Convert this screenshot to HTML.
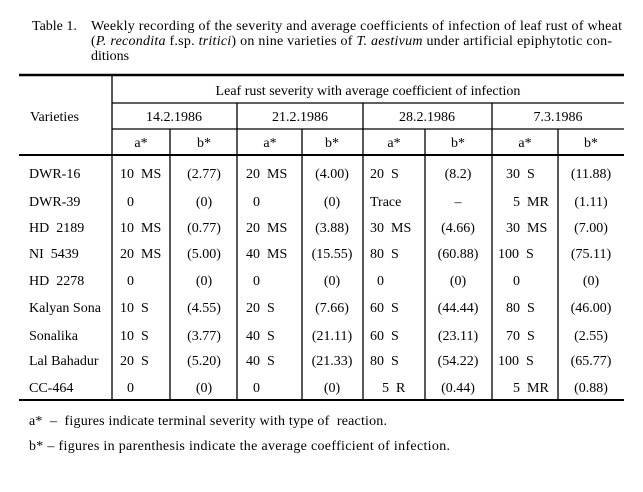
<!DOCTYPE html>
<html><head><meta charset="utf-8"><style>
html,body{margin:0;padding:0;background:#fff;}
svg{display:block;}
text{font-family:"Liberation Serif",serif;font-size:14px;fill:#000;white-space:pre;}
</style></head><body>
<svg width="643" height="492" viewBox="0 0 643 492" xmlns="http://www.w3.org/2000/svg">
<text x="32" y="30">Table 1.</text>
<text x="91" y="30" textLength="531" lengthAdjust="spacing">Weekly recording of the severity and average coefficients of infection of leaf rust of wheat</text>
<text x="91" y="45" textLength="521" lengthAdjust="spacing">(<tspan font-style="italic">P. recondita</tspan> f.sp. <tspan font-style="italic">tritici</tspan>) on nine varieties of <tspan font-style="italic">T. aestivum</tspan> under artificial epiphytotic con-</text>
<text x="91" y="60">ditions</text>

<g stroke="#000" fill="none">
<line x1="19" y1="75" x2="624" y2="75" stroke-width="2.5"/>
<line x1="112" y1="103" x2="624" y2="103" stroke-width="1.2"/>
<line x1="112" y1="129" x2="624" y2="129" stroke-width="1.2"/>
<line x1="19" y1="155" x2="624" y2="155" stroke-width="2"/>
<line x1="19" y1="400" x2="624" y2="400" stroke-width="2"/>
<line x1="112" y1="75" x2="112" y2="400" stroke-width="1.3"/>
<line x1="237" y1="103" x2="237" y2="400" stroke-width="1.3"/>
<line x1="363" y1="103" x2="363" y2="400" stroke-width="1.3"/>
<line x1="492" y1="103" x2="492" y2="400" stroke-width="1.3"/>
<line x1="170" y1="129" x2="170" y2="400" stroke-width="1.3"/>
<line x1="302" y1="129" x2="302" y2="400" stroke-width="1.3"/>
<line x1="425" y1="129" x2="425" y2="400" stroke-width="1.3"/>
<line x1="558" y1="129" x2="558" y2="400" stroke-width="1.3"/>
</g>

<g text-anchor="middle">
<text x="368" y="95">Leaf rust severity with average coefficient of infection</text>
<text x="174" y="121">14.2.1986</text>
<text x="300" y="121">21.2.1986</text>
<text x="427" y="121">28.2.1986</text>
<text x="558" y="121">7.3.1986</text>
<text x="141" y="147">a*</text><text x="204" y="147">b*</text>
<text x="270" y="147">a*</text><text x="332" y="147">b*</text>
<text x="394" y="147">a*</text><text x="458" y="147">b*</text>
<text x="525" y="147">a*</text><text x="591" y="147">b*</text>
</g>
<text x="30" y="121">Varieties</text>

<g>
<text x="29" y="178">DWR-16</text>
<text x="29" y="206">DWR-39</text>
<text x="29" y="232">HD  2189</text>
<text x="29" y="258">NI  5439</text>
<text x="29" y="285">HD  2278</text>
<text x="29" y="312">Kalyan Sona</text>
<text x="29" y="340">Sonalika</text>
<text x="29" y="365">Lal Bahadur</text>
<text x="29" y="392">CC-464</text>
</g>

<g>
<text x="120" y="178">10  MS</text><text x="127" y="206">0</text><text x="120" y="232">10  MS</text><text x="120" y="258">20  MS</text><text x="127" y="285">0</text><text x="120" y="312">10  S</text><text x="120" y="340">10  S</text><text x="120" y="365">20  S</text><text x="127" y="392">0</text>
<text x="246" y="178">20  MS</text><text x="253" y="206">0</text><text x="246" y="232">20  MS</text><text x="246" y="258">40  MS</text><text x="253" y="285">0</text><text x="246" y="312">20  S</text><text x="246" y="340">40  S</text><text x="246" y="365">40  S</text><text x="253" y="392">0</text>
<text x="370" y="178">20  S</text><text x="370" y="206">Trace</text><text x="370" y="232">30  MS</text><text x="370" y="258">80  S</text><text x="377" y="285">0</text><text x="370" y="312">60  S</text><text x="370" y="340">60  S</text><text x="370" y="365">80  S</text><text x="382" y="392">5  R</text>
<text x="506" y="178">30  S</text><text x="513" y="206">5  MR</text><text x="506" y="232">30  MS</text><text x="498" y="258">100  S</text><text x="513" y="285">0</text><text x="506" y="312">80  S</text><text x="506" y="340">70  S</text><text x="498" y="365">100  S</text><text x="513" y="392">5  MR</text>
</g>

<g text-anchor="middle">
<text x="204" y="178">(2.77)</text><text x="204" y="206">(0)</text><text x="204" y="232">(0.77)</text><text x="204" y="258">(5.00)</text><text x="204" y="285">(0)</text><text x="204" y="312">(4.55)</text><text x="204" y="340">(3.77)</text><text x="204" y="365">(5.20)</text><text x="204" y="392">(0)</text>
<text x="332" y="178">(4.00)</text><text x="332" y="206">(0)</text><text x="332" y="232">(3.88)</text><text x="332" y="258">(15.55)</text><text x="332" y="285">(0)</text><text x="332" y="312">(7.66)</text><text x="332" y="340">(21.11)</text><text x="332" y="365">(21.33)</text><text x="332" y="392">(0)</text>
<text x="458" y="178">(8.2)</text><text x="458" y="206">–</text><text x="458" y="232">(4.66)</text><text x="458" y="258">(60.88)</text><text x="458" y="285">(0)</text><text x="458" y="312">(44.44)</text><text x="458" y="340">(23.11)</text><text x="458" y="365">(54.22)</text><text x="458" y="392">(0.44)</text>
<text x="591" y="178">(11.88)</text><text x="591" y="206">(1.11)</text><text x="591" y="232">(7.00)</text><text x="591" y="258">(75.11)</text><text x="591" y="285">(0)</text><text x="591" y="312">(46.00)</text><text x="591" y="340">(2.55)</text><text x="591" y="365">(65.77)</text><text x="591" y="392">(0.88)</text>
</g>

<text x="29" y="425" textLength="358" lengthAdjust="spacing">a*  –  figures indicate terminal severity with type of  reaction.</text>
<text x="29" y="450" textLength="421" lengthAdjust="spacing">b* – figures in parenthesis indicate the average coefficient of infection.</text>
</svg>
</body></html>
